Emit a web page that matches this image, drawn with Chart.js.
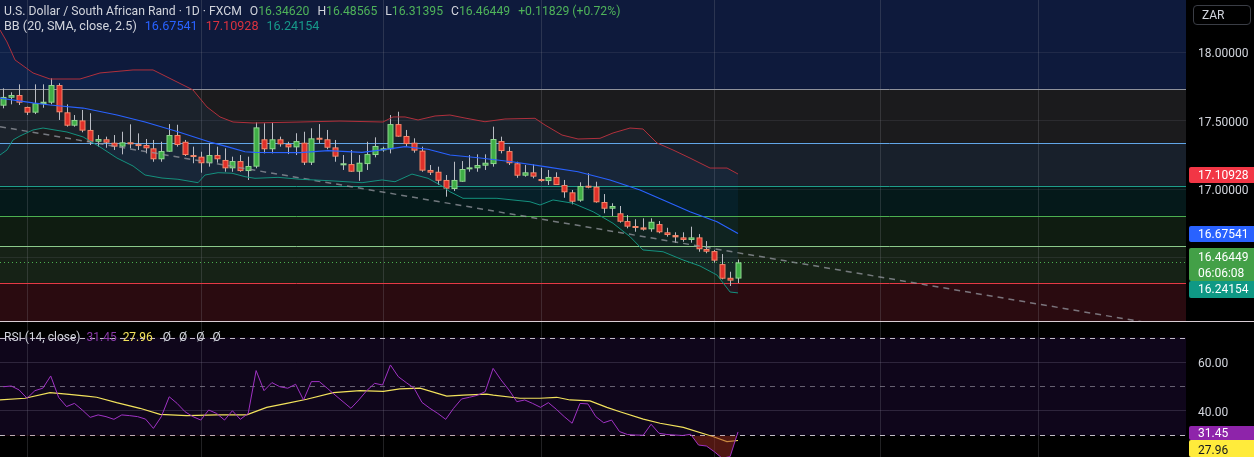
<!DOCTYPE html>
<html><head><meta charset="utf-8">
<script src="https://cdn.jsdelivr.net/npm/chart.js@4.4.1/dist/chart.umd.min.js"></script>
<style>
html,body{margin:0;padding:0;background:#000;width:1254px;height:457px;overflow:hidden;font-family:Roboto,"Liberation Sans",Arial,sans-serif;}
canvas{position:absolute;left:0;}
#main{top:0;}
#rsi{top:322px;}
.sep{position:absolute;left:0;top:321px;width:1254px;height:1px;background:#d9cdd5;}
.legend{position:absolute;left:4px;font-size:12px;line-height:16px;color:#d1d4dc;white-space:nowrap;display:flex;gap:7px;}
.g{color:#4fb35a;}
.tag{position:absolute;left:1189px;width:65px;color:#fff;font-size:12px;padding-left:9px;box-sizing:border-box;border-radius:2px 0 0 2px;line-height:16px;}
.zar{position:absolute;left:1193px;top:5px;width:58px;height:20px;border:1px solid #3a3d45;border-radius:4px;box-sizing:border-box;color:#d1d4dc;font-size:12px;line-height:18px;padding-left:8px;}
</style></head>
<body>
<canvas id="main" width="1254" height="321"></canvas>
<canvas id="rsi" width="1254" height="135"></canvas>
<div class="sep"></div>
<div class="legend" style="top:3px;font-size:12.2px;gap:8px"><span>U.S. Dollar / South African Rand · 1D · FXCM</span><span>O<span class="g">16.34620</span></span><span>H<span class="g">16.48565</span></span><span>L<span class="g">16.31395</span></span><span>C<span class="g">16.46449</span></span><span class="g">+0.11829 (+0.72%)</span></div>
<div class="legend" style="top:18px;font-size:12.6px;gap:8px"><span>BB (20, SMA, close, 2.5)</span><span style="color:#2962ff">16.67541</span><span style="color:#d9323f">17.10928</span><span style="color:#17998a">16.24154</span></div>
<div class="legend" style="top:329px;gap:6px"><span>RSI (14, close)</span><span style="color:#8a3aa8">31.45</span><span style="color:#f2e25c">27.96</span><span style="margin-left:4px">Ø</span><span style="margin-left:2px">Ø</span><span style="margin-left:3px">Ø</span><span style="margin-left:2px">Ø</span></div>
<div class="zar">ZAR</div>
<div class="tag" style="top:167px;height:16px;background:#f23645">17.10928</div>
<div class="tag" style="top:226px;height:16px;background:#2962ff">16.67541</div>
<div class="tag" style="top:248px;height:33px;background:#43a047;line-height:16px;padding-top:1px">16.46449<br>06:06:08</div>
<div class="tag" style="top:281px;height:17px;background:#0f9985">16.24154</div>
<div class="tag" style="top:426px;height:14px;line-height:14px;background:#8e24aa">31.45</div>
<div class="tag" style="top:440px;height:17px;background:#ffeb3b;color:#131722;line-height:17px;padding-top:2px">27.96</div>
<script>
// ---- candle data (index 0..93, daily) ----
const opens  = [17.608,17.666,17.686,17.599,17.557,17.620,17.630,17.759,17.560,17.462,17.501,17.431,17.345,17.363,17.338,17.309,17.341,17.328,17.321,17.297,17.217,17.272,17.394,17.345,17.248,17.236,17.188,17.248,17.212,17.151,17.204,17.131,17.163,17.363,17.290,17.363,17.328,17.304,17.338,17.192,17.374,17.363,17.304,17.173,17.182,17.126,17.182,17.248,17.290,17.290,17.474,17.387,17.338,17.280,17.139,17.126,17.066,17.000,17.053,17.144,17.151,17.170,17.182,17.350,17.277,17.188,17.097,17.122,17.073,17.058,17.088,17.029,16.976,16.915,17.024,17.017,16.905,16.856,16.823,16.766,16.730,16.720,16.706,16.744,16.684,16.664,16.647,16.628,16.647,16.562,16.547,16.452,16.352,16.34620];
const highs  = [17.735,17.706,17.764,17.601,17.764,17.764,17.808,17.772,17.618,17.540,17.577,17.553,17.394,17.382,17.394,17.418,17.472,17.406,17.365,17.358,17.345,17.474,17.469,17.358,17.309,17.272,17.334,17.309,17.297,17.236,17.248,17.236,17.487,17.480,17.487,17.382,17.345,17.407,17.418,17.443,17.474,17.431,17.358,17.248,17.285,17.248,17.345,17.377,17.309,17.540,17.564,17.431,17.370,17.309,17.175,17.163,17.102,17.199,17.204,17.248,17.253,17.253,17.455,17.382,17.309,17.199,17.175,17.180,17.155,17.139,17.122,17.066,16.993,17.049,17.115,17.053,16.963,16.896,16.876,16.810,16.779,16.786,16.786,16.766,16.717,16.684,16.684,16.725,16.671,16.620,16.555,16.525,16.396,16.48565];
const lows   = [17.589,17.618,17.613,17.540,17.547,17.593,17.618,17.504,17.455,17.455,17.414,17.321,17.309,17.301,17.285,17.253,17.297,17.285,17.260,17.199,17.199,17.272,17.309,17.241,17.188,17.119,17.163,17.192,17.126,17.126,17.126,17.066,17.151,17.260,17.260,17.309,17.255,17.248,17.175,17.175,17.334,17.290,17.199,17.139,17.126,17.060,17.139,17.231,17.272,17.260,17.382,17.309,17.265,17.126,17.102,17.029,16.944,16.985,17.053,17.126,17.126,17.139,17.163,17.260,17.175,17.082,17.090,17.078,17.053,17.029,17.029,16.936,16.888,16.907,17.005,16.900,16.823,16.803,16.754,16.713,16.688,16.696,16.688,16.677,16.652,16.608,16.615,16.608,16.542,16.531,16.462,16.341,16.292,16.31395];
const closes = [17.672,17.686,17.630,17.557,17.626,17.637,17.759,17.560,17.462,17.504,17.426,17.345,17.365,17.338,17.309,17.341,17.326,17.314,17.297,17.217,17.277,17.394,17.321,17.248,17.236,17.188,17.248,17.217,17.151,17.204,17.131,17.168,17.450,17.290,17.363,17.326,17.304,17.350,17.192,17.370,17.363,17.301,17.236,17.188,17.126,17.192,17.255,17.314,17.297,17.474,17.382,17.328,17.280,17.134,17.119,17.060,17.002,17.066,17.146,17.158,17.175,17.192,17.365,17.277,17.188,17.097,17.122,17.090,17.058,17.088,17.029,16.976,16.907,17.022,17.014,16.903,16.856,16.876,16.761,16.725,16.725,16.703,16.761,16.684,16.664,16.647,16.628,16.647,16.560,16.542,16.477,16.345,16.331,16.46449];

// ---- Bollinger Bands (20, SMA, close, 2.5): [bar index, price] ----
const upperX = [-0.42,0.47,1.48,3.76,5.91,9.71,12.24,16.42,18.95,21.48,24.01,25.78,27.43,29.08,31.61,37.56,42.62,48.06,49.33,50.85,52.5,54.65,56.54,58.44,60.97,63.5,67.3,68.57,70.72,72.75,75.53,77.18,79.33,80.97,82.75,84.77,86.92,89.46,91.61,93];
const upperY = [18.161,18.073,17.942,17.847,17.803,17.803,17.847,17.869,17.869,17.796,17.723,17.599,17.526,17.489,17.482,17.489,17.496,17.489,17.526,17.526,17.504,17.533,17.540,17.518,17.491,17.511,17.516,17.467,17.394,17.365,17.370,17.409,17.445,17.438,17.336,17.285,17.226,17.153,17.153,17.10928];
const basisX = [-0.42,3.76,5.91,10.1,14.39,17.94,22.11,26.42,28.44,30.59,31.86,37.56,41.1,45.41,47.94,50.85,53.76,56.54,60.09,64.39,68.57,72.75,76.8,80.6,83.52,86.92,90.34,93];
const basisY = [17.664,17.628,17.613,17.591,17.540,17.489,17.418,17.338,17.307,17.272,17.268,17.265,17.280,17.268,17.285,17.309,17.290,17.248,17.228,17.199,17.163,17.126,17.066,16.993,16.920,16.834,16.761,16.67541];
const lowerX = [-0.42,0.47,1.23,2.11,3.76,5.03,8.06,10.1,12.24,14.39,16.42,17.94,20.09,22.11,24.65,25.53,27.18,28.95,30.59,31.86,34.77,37.56,41.1,45.41,47.94,49.58,51.73,53.76,55.53,56.54,58.19,62.49,66.67,67.94,69.58,72.11,74.66,77.18,79.33,80.97,83.51,86.04,88.19,90.34,92,93];
const lowerY = [17.248,17.285,17.358,17.387,17.431,17.445,17.416,17.380,17.307,17.226,17.168,17.102,17.080,17.071,17.046,17.102,17.119,17.115,17.090,17.078,17.085,17.071,17.061,17.046,17.066,17.053,17.109,17.078,17.022,16.980,16.932,16.932,16.907,16.883,16.920,16.896,16.834,16.750,16.652,16.555,16.542,16.482,16.438,16.372,16.248,16.24154];

// ---- trend line drawing: [bar index, price] ----
const trendLine = [[-0.42,17.455],[149.71,15.976]];

// ---- horizontal zones (price levels, top to bottom) ----
const zoneLevels = [17.730,17.336,17.022,16.803,16.584,16.314];
const lastPrice = 16.46449;
const priceTicks = [16.5,17.0,17.5,18.0];
const monthGridIdx = [3,25,48,68,90,111,131];

// ---- RSI (14) and its MA ----
const rsiValues = [49.9,50.2,48.6,45.2,48.3,49.3,54.3,45.6,41.8,43.1,40.4,37.4,38.4,37.7,36.6,38.4,38.1,37.7,36.7,32.9,37.7,45.8,43.1,39.7,37.7,36.3,40.4,39.0,36.3,40.1,36.6,39.0,56.5,48.3,51.6,49.9,49.3,50.9,44.5,52.0,52.0,49.3,46.5,43.8,41.1,44.5,48.3,51.3,50.6,58.8,54.0,51.6,49.3,43.5,41.1,39.0,36.6,41.1,44.9,45.6,46.4,47.9,57.4,52.7,48.6,43.8,44.5,43.1,41.5,43.4,40.7,37.7,35.0,43.1,42.9,37.7,35.2,36.3,31.6,30.4,30.2,30.1,34.6,30.9,30.4,30.2,30.0,30.5,26.1,25.7,23.4,20.7,21.4,31.45];
const rsiMaX = [-0.42,2.75,5.91,8.02,10.56,11.82,14.35,17.3,19.84,23.2,27.0,30.8,33.34,35.87,38.41,41.77,45.15,48.1,50.2,52.75,56.13,58.23,61.19,62.03,65.4,67.94,70.05,71.74,74.27,76.4,78.06,81.01,83.14,86.08,89.9,91.6,93];
const rsiMaY = [44.5,45.2,47.5,46.9,46.1,45.6,43.4,41.1,38.6,38.1,38.4,38.4,41.5,43.1,44.8,47.5,48.3,48.0,49.0,49.3,46.1,46.5,46.9,46.5,45.2,45.2,45.6,44.5,44.1,41.5,39.7,36.7,35.0,33.3,29.5,27.5,27.96];
const rsiTicks = [40,60];
const rsiLevels = [70,50,30];

// ---- styles ----
const X_MIN = -0.42, X_MAX = 149.71;
const zoneFills = ['#0e1a3c','#1b1b1d','#18202b','#05191a','#0f1c11','#162216','#2a0b10'];
const zoneLines = ['#8f929b','#62a6e8','#1f9e8a','#4caf50','#8bc98b','#e53945'];
const AXIS_W = 68;
const tickFont = {family:'Roboto, "Liberation Sans", Arial', size:12};

function pts(xs, ys){ return xs.map((x,k)=>({x:x, y:ys[k]})); }
function fitAxis(s){ s.width = AXIS_W; s.paddingTop = 0; s.paddingBottom = 0; }

const mainDecor = {
  id:'mainDecor',
  beforeDraw(chart){
    const {ctx, chartArea:a, scales:{x,y}} = chart;
    ctx.save();
    const b = [y.max, ...zoneLevels, y.min];
    for (let k=0;k<zoneFills.length;k++){
      const y0 = y.getPixelForValue(b[k]), y1 = y.getPixelForValue(b[k+1]);
      ctx.fillStyle = zoneFills[k];
      ctx.fillRect(a.left, y0, a.right-a.left, y1-y0);
    }
    ctx.strokeStyle = 'rgba(150,150,160,0.22)'; ctx.lineWidth = 1;
    monthGridIdx.forEach(i=>{ const px = Math.round(x.getPixelForValue(i))+0.5;
      ctx.beginPath(); ctx.moveTo(px,a.top); ctx.lineTo(px,a.bottom); ctx.stroke(); });
    ctx.restore();
  },
  beforeDatasetsDraw(chart){
    const {ctx, chartArea:a, scales:{x,y}} = chart;
    ctx.save();
    zoneLevels.forEach((v,k)=>{ const py = Math.round(y.getPixelForValue(v))+0.5;
      ctx.strokeStyle = zoneLines[k]; ctx.lineWidth = 1;
      ctx.beginPath(); ctx.moveTo(a.left,py); ctx.lineTo(a.right,py); ctx.stroke(); });
    const lp = Math.round(y.getPixelForValue(lastPrice))+0.5;
    ctx.setLineDash([1,3]); ctx.strokeStyle = '#4caf50';
    ctx.beginPath(); ctx.moveTo(a.left,lp); ctx.lineTo(a.right,lp); ctx.stroke();
    ctx.setLineDash([]);
    // candles
    for (let i=0;i<opens.length;i++){
      const px = Math.round(x.getPixelForValue(i))+0.5;
      const o=y.getPixelForValue(opens[i]), c=y.getPixelForValue(closes[i]);
      const h=y.getPixelForValue(highs[i]), l=y.getPixelForValue(lows[i]);
      const up = closes[i] >= opens[i];
      ctx.strokeStyle = '#b9bcc4'; ctx.lineWidth = 1;
      ctx.beginPath(); ctx.moveTo(px,h); ctx.lineTo(px,l); ctx.stroke();
      const top = Math.min(o,c), ht = Math.max(Math.abs(o-c),2);
      ctx.fillStyle = up ? '#8fd68f' : '#f3876a';
      ctx.fillRect(px-3, top, 6, ht);
      if (ht > 2.5) { ctx.fillStyle = up ? '#3fae46' : '#e0302a'; ctx.fillRect(px-2, top+1, 4, ht-2); }
    }
    ctx.restore();
  }
};

new Chart(document.getElementById('main'), {
  type:'line',
  data:{datasets:[
    {data:pts(upperX,upperY), borderColor:'#b0303c', borderWidth:1, pointRadius:0, fill:'+2', backgroundColor:'rgba(33,130,243,0.07)'},
    {data:pts(basisX,basisY), borderColor:'#2962ff', borderWidth:1.2, pointRadius:0, fill:false},
    {data:pts(lowerX,lowerY), borderColor:'#14917e', borderWidth:1, pointRadius:0, fill:false},
    {data:trendLine.map(p=>({x:p[0],y:p[1]})), borderColor:'rgba(150,152,160,0.75)', borderWidth:1.5, borderDash:[6,5], pointRadius:0, fill:false}
  ]},
  options:{
    responsive:false, animation:false, events:[],
    layout:{padding:0},
    plugins:{legend:{display:false}, tooltip:{enabled:false}, filler:{drawTime:'beforeDatasetsDraw'}},
    scales:{
      x:{type:'linear', min:X_MIN, max:X_MAX, display:false},
      y:{type:'linear', position:'right', min:16.0365, max:18.3796,
         afterFit:fitAxis,
         afterBuildTicks(s){ s.ticks = priceTicks.map(v=>({value:v})); },
         ticks:{color:'#d1d4dc', font:tickFont, padding:12, labelOffset:2, callback:v=>Number(v).toFixed(5)},
         grid:{color:'rgba(130,133,144,0.16)', drawTicks:false}, border:{display:false}}
    }
  },
  plugins:[mainDecor]
});

const rsiDecor = {
  id:'rsiDecor',
  beforeDraw(chart){
    const {ctx, chartArea:a, scales:{x,y}} = chart;
    ctx.save();
    const y0 = y.getPixelForValue(70), y1 = y.getPixelForValue(30);
    ctx.fillStyle = '#0f061b';
    ctx.fillRect(a.left, y0, a.right-a.left, y1-y0);
    ctx.strokeStyle = 'rgba(150,150,160,0.22)'; ctx.lineWidth = 1;
    monthGridIdx.forEach(i=>{ const px = Math.round(x.getPixelForValue(i))+0.5;
      ctx.beginPath(); ctx.moveTo(px,a.top); ctx.lineTo(px,a.bottom); ctx.stroke(); });
    ctx.restore();
  },
  beforeDatasetsDraw(chart){
    const {ctx, chartArea:a, scales:{y}} = chart;
    ctx.save(); ctx.setLineDash([5,5]); ctx.lineWidth = 1;
    rsiLevels.forEach(v=>{ const py = Math.round(y.getPixelForValue(v))+0.5;
      ctx.strokeStyle = v===50 ? 'rgba(140,135,150,0.7)' : 'rgba(225,220,230,0.85)';
      ctx.beginPath(); ctx.moveTo(a.left,py); ctx.lineTo(a.right,py); ctx.stroke(); });
    ctx.restore();
  }
};

new Chart(document.getElementById('rsi'), {
  type:'line',
  data:{datasets:[
    {data:rsiValues.map((v,i)=>({x:i,y:v})), borderColor:'#a032c4', borderWidth:1, pointRadius:0,
     fill:{target:{value:30}, above:'rgba(0,0,0,0)', below:'rgba(160,45,35,0.5)'}},
    {data:pts(rsiMaX,rsiMaY), borderColor:'#f2e25c', borderWidth:1.2, pointRadius:0, fill:false}
  ]},
  options:{
    responsive:false, animation:false, events:[],
    layout:{padding:0},
    plugins:{legend:{display:false}, tooltip:{enabled:false}},
    scales:{
      x:{type:'linear', min:X_MIN, max:X_MAX, display:false},
      y:{type:'linear', position:'right', min:21.22, max:76.33,
         afterFit:fitAxis,
         afterBuildTicks(s){ s.ticks = rsiTicks.map(v=>({value:v})); },
         ticks:{color:'#d1d4dc', font:tickFont, padding:12, labelOffset:2, callback:v=>Number(v).toFixed(2)},
         grid:{color:'rgba(120,110,140,0.3)', drawTicks:false}, border:{display:false}}
    }
  },
  plugins:[rsiDecor]
});
</script>
</body></html>
